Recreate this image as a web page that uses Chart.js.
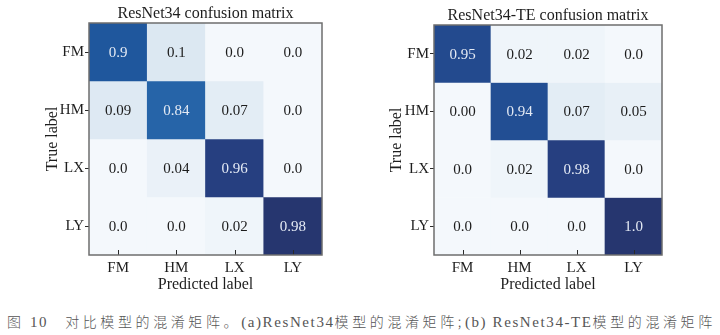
<!DOCTYPE html>
<html><head><meta charset="utf-8">
<script src="https://cdn.jsdelivr.net/npm/chart.js@4.4.0/dist/chart.umd.min.js"></script>
<style>
html,body{margin:0;padding:0;background:#fff;width:720px;height:335px;overflow:hidden}
canvas{position:absolute;top:0}
#c1{left:0}
#c2{left:360px}
#cap{position:absolute;left:7px;top:311px;font-size:15px;font-family:"Liberation Serif","Noto Sans CJK SC";letter-spacing:1.6px;color:#555;white-space:nowrap;line-height:20px}
#cap .zh{font-family:"Noto Sans CJK SC";font-size:14px;font-weight:300;letter-spacing:3.6px}
</style></head><body>
<canvas id="c1" width="360" height="300"></canvas>
<canvas id="c2" width="360" height="300"></canvas>
<div id="cap"><span class="zh">图</span> 10<span style="display:inline-block;width:17px"></span><span class="zh">对比模型的混淆矩阵。</span>(a)ResNet34<span class="zh">模型的混淆矩阵;</span>(b) ResNet34-TE<span class="zh">模型的混淆矩阵</span></div>
<script>
// ---- data ----
const predictedLabels = ['FM', 'HM', 'LX', 'LY'];
const trueLabels = ['FM', 'HM', 'LX', 'LY'];
const resnet34Cells = [
  ['0.9', '0.1', '0.0', '0.0'],
  ['0.09', '0.84', '0.07', '0.0'],
  ['0.0', '0.04', '0.96', '0.0'],
  ['0.0', '0.0', '0.02', '0.98']
];
const resnet34TECells = [
  ['0.95', '0.02', '0.02', '0.0'],
  ['0.00', '0.94', '0.07', '0.05'],
  ['0.0', '0.02', '0.98', '0.0'],
  ['0.0', '0.0', '0.0', '1.0']
];
const titles = ['ResNet34 confusion matrix', 'ResNet34-TE confusion matrix'];

// ---- colour map (Blues-like, as seen in picture) ----
const stops = [
  [0.00, [244, 248, 252]],
  [0.10, [220, 232, 242]],
  [0.86, [37, 99, 168]],
  [0.92, [31, 87, 157]],
  [0.95, [35, 74, 142]],
  [0.98, [38, 63, 128]],
  [1.00, [38, 54, 111]]
];
function cmap(t) {
  t = Math.max(0, Math.min(1, t));
  for (let k = 1; k < stops.length; k++) {
    if (t <= stops[k][0]) {
      const [t0, c0] = stops[k - 1], [t1, c1] = stops[k];
      const f = (t - t0) / (t1 - t0);
      const c = c0.map((v, i) => Math.round(v + (c1[i] - v) * f));
      return `rgb(${c[0]},${c[1]},${c[2]})`;
    }
  }
  const c = stops[stops.length - 1][1];
  return `rgb(${c[0]},${c[1]},${c[2]})`;
}

const SERIF = '"Liberation Serif", "Times New Roman", serif';

function makeChart(id, cells, title, geom) {
  const vals = cells.map(r => r.map(parseFloat));
  const vmax = Math.max(...vals.flat());
  const datasets = vals.map((row, i) => ({
    label: trueLabels[i],
    data: row.map(() => [i, i + 1]),
    backgroundColor: row.map(v => cmap(v / vmax)),
    borderWidth: 0,
    grouped: false,
    barPercentage: 1,
    categoryPercentage: 1
  }));
  const cellPlugin = {
    id: 'cells',
    afterDatasetsDraw(chart) {
      const {ctx, chartArea: a, scales: {x, y}} = chart;
      ctx.save();
      ctx.font = '15px ' + SERIF;
      ctx.textAlign = 'center';
      ctx.textBaseline = 'middle';
      cells.forEach((row, i) => row.forEach((txt, j) => {
        const v = vals[i][j] / vmax;
        ctx.fillStyle = v > 0.5 ? '#e4eaf4' : '#1c1c1c';
        ctx.fillText(txt, x.getPixelForValue(j), y.getPixelForValue(i + 0.5) + 1);
      }));
      // title centred over the plot
      ctx.fillStyle = '#1e1e1e';
      ctx.font = '16px ' + SERIF;
      ctx.fillText(title, (a.left + a.right) / 2, geom.titleY);
      // inward bottom ticks
      ctx.strokeStyle = '#2a2a2a';
      ctx.lineWidth = 1;
      x.ticks.forEach((t, j) => {
        const px = Math.round(x.getPixelForTick(j)) + 0.5;
        ctx.beginPath();
        ctx.moveTo(px, a.bottom);
        ctx.lineTo(px, a.bottom - 5);
        ctx.stroke();
      });
      // frame
      ctx.strokeStyle = '#6e6e6e';
      ctx.lineWidth = 1.5;
      ctx.strokeRect(a.left, a.top, a.right - a.left, a.bottom - a.top);
      ctx.restore();
    }
  };
  return new Chart(document.getElementById(id), {
    type: 'bar',
    data: {labels: predictedLabels, datasets},
    options: {
      responsive: false,
      animation: false,
      devicePixelRatio: 1,
      layout: {padding: {left: 0, right: geom.padRight, top: geom.top, bottom: 0}},
      plugins: {
        legend: {display: false},
        tooltip: {enabled: false},
        title: {display: false}
      },
      scales: {
        x: {
          type: 'category',
          offset: true,
          grid: {display: false, drawTicks: false},
          border: {display: false},
          ticks: {color: '#1e1e1e', padding: 4, font: {family: SERIF, size: 15}},
          title: {display: true, text: 'Predicted label', color: '#1e1e1e',
                  font: {family: SERIF, size: 16}, padding: {top: 0, bottom: 6}},
          afterFit(s) { s.height = 45; }
        },
        y: {
          type: 'linear',
          min: 0, max: 4,
          reverse: true,
          afterBuildTicks(s) { s.ticks = [0.5, 1.5, 2.5, 3.5].map(v => ({value: v})); },
          grid: {drawOnChartArea: false, drawTicks: true, tickLength: 4, color: '#2a2a2a'},
          border: {display: false},
          ticks: {color: '#1e1e1e', padding: 1, font: {family: SERIF, size: 15},
                  callback: (v) => trueLabels[Math.floor(v)]},
          title: {display: true, text: 'True label', color: '#1e1e1e',
                  font: {family: SERIF, size: 16}, padding: {top: geom.yTitlePad, bottom: 0}},
          afterFit(s) { s.width = geom.left; }
        }
      }
    },
    plugins: [cellPlugin]
  });
}

makeChart('c1', resnet34Cells, titles[0], {left: 89, padRight: 38, top: 23, titleY: 14, yTitlePad: 43});
makeChart('c2', resnet34TECells, titles[1], {left: 74, padRight: 58, top: 25, titleY: 16, yTitlePad: 27});
</script>
</body></html>
